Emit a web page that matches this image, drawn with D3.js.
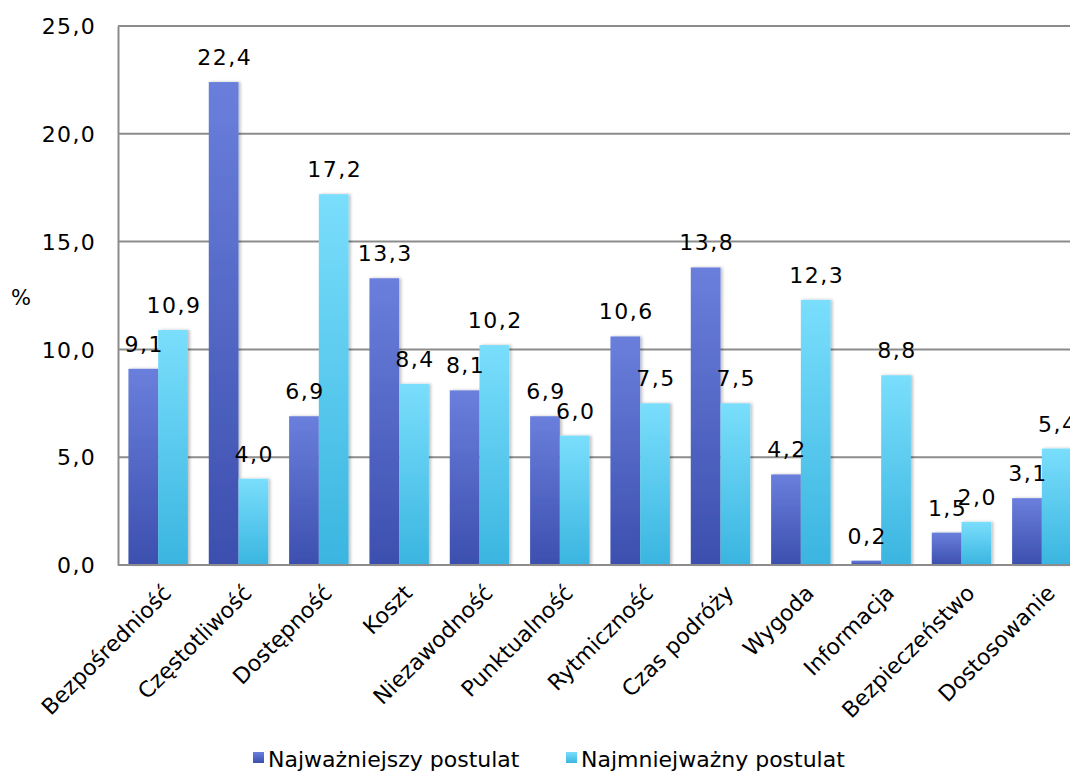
<!DOCTYPE html>
<html><head><meta charset="utf-8">
<script src="https://cdn.jsdelivr.net/npm/d3@7"></script>
<style>body{margin:0;background:#fff;} text{font-family:"DejaVu Sans",sans-serif;fill:#000;}</style>
</head><body><svg id="c" width="1070" height="774"></svg>
<script>
const categories = ["Bezpośredniość","Częstotliwość","Dostępność","Koszt","Niezawodność","Punktualność","Rytmiczność","Czas podróży","Wygoda","Informacja","Bezpieczeństwo","Dostosowanie"];
const seriesNames = ["Najważniejszy postulat","Najmniejważny postulat"];
const najwazniejszy = [9.1,22.4,6.9,13.3,8.1,6.9,10.6,13.8,4.2,0.2,1.5,3.1];
const najmniejwazny = [10.9,4.0,17.2,8.4,10.2,6.0,7.5,7.5,12.3,8.8,2.0,5.4];
const yTicks = [0,5,10,15,20,25];

const svg = d3.select("#c");
const defs = svg.append("defs");
function grad(id, top, bottom){
  const g = defs.append("linearGradient").attr("id",id).attr("x1",0).attr("y1",0).attr("x2",0).attr("y2",1);
  g.append("stop").attr("offset","0%").attr("stop-color",top);
  g.append("stop").attr("offset","100%").attr("stop-color",bottom);
}
grad("gBlue","#6a7fdc","#3c4fae");
grad("gCyan","#7adefc","#3ab5e0");
const f = defs.append("filter").attr("id","sh").attr("x","-20%").attr("y","-5%").attr("width","150%").attr("height","110%");
f.append("feDropShadow").attr("dx",2).attr("dy",0).attr("stdDeviation",1.5).attr("flood-color","#000").attr("flood-opacity",0.25);

const x0 = 118, x1 = 1082, yTop = 26, yBot = 565;
const x = d3.scaleBand().domain(categories).range([x0,x1]).paddingInner(0.26).paddingOuter(0.13);
const xs = d3.scaleBand().domain(seriesNames).range([0,x.bandwidth()]);
const y = d3.scaleLinear().domain([0,25]).range([yBot,yTop]);

// gridlines
svg.append("g").selectAll("line").data(yTicks.filter(d=>d>0)).join("line")
  .attr("x1",x0).attr("x2",1070).attr("y1",d=>y(d)).attr("y2",d=>y(d))
  .attr("stroke","#8c8c8c").attr("stroke-width",2);

const yAxis = d3.axisLeft(y).tickValues(yTicks).tickSize(0).tickPadding(22)
  .tickFormat(d=>d3.format(".1f")(d).replace(".",","));
const ga = svg.append("g").attr("transform",`translate(${x0},0)`).call(yAxis);
ga.select(".domain").attr("stroke","#8c8c8c").attr("stroke-width",2);
ga.selectAll("text").attr("font-size",22).attr("font-family","DejaVu Sans").attr("letter-spacing",1.3).attr("dy","0.35em");

const series = [najwazniejszy, najmniejwazny];
const fills = ["url(#gBlue)","url(#gCyan)"];
series.forEach((vals,si)=>{
  const g = svg.append("g");
  g.selectAll("rect").data(vals).join("rect")
    .attr("x",(d,i)=>x(categories[i])+xs(seriesNames[si]))
    .attr("width",xs.bandwidth())
    .attr("y",d=>y(d)).attr("height",d=>yBot-y(d))
    .attr("fill",fills[si]).attr("filter","url(#sh)");
});
series.forEach((vals,si)=>{
  svg.append("g").selectAll("text").data(vals).join("text")
    .attr("x",(d,i)=>x(categories[i])+xs(seriesNames[si])+xs.bandwidth()/2+1)
    .attr("y",d=>y(d)-17)
    .attr("text-anchor","middle").attr("font-size",22).attr("letter-spacing",1.5)
    .text(d=>d3.format(".1f")(d).replace(".",","));
});

// x axis line
svg.append("line").attr("x1",x0).attr("x2",1070).attr("y1",yBot).attr("y2",yBot).attr("stroke","#8c8c8c").attr("stroke-width",2);
const xa = d3.axisBottom(x).tickSize(0).tickPadding(0);
const gx = svg.append("g").attr("transform",`translate(0,${yBot})`).call(xa);
gx.select(".domain").remove();
gx.selectAll("text").attr("font-size",22).attr("font-family","DejaVu Sans").attr("text-anchor","end")
  .attr("transform","translate(9,24) rotate(-45)").attr("dy","0.35em").attr("y",0);

svg.append("text").attr("x",21).attr("y",298).attr("text-anchor","middle").attr("font-size",21).attr("dy","0.35em").text("%");

// legend
const lg = svg.append("g");
const lx = [253,566];
seriesNames.forEach((n,i)=>{
  lg.append("rect").attr("x",lx[i]).attr("y",752).attr("width",11).attr("height",11).attr("fill",fills[i]);
  lg.append("text").attr("x",lx[i]+15).attr("y",759).attr("dy","0.35em").attr("font-size",22).text(n);
});
</script></body></html>
